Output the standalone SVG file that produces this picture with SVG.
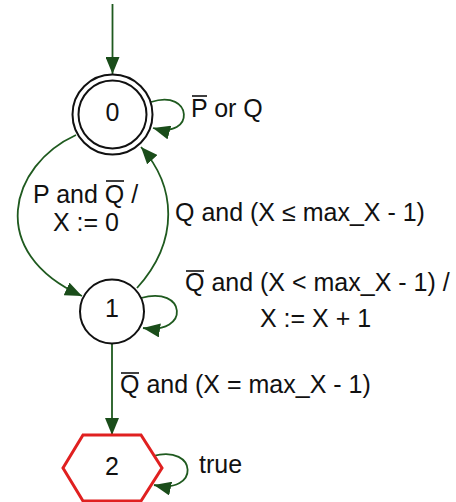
<svg xmlns="http://www.w3.org/2000/svg" width="456" height="502" viewBox="0 0 456 502">
<style>
text{font-family:"Liberation Sans",Arial,sans-serif;font-size:25px;fill:#111}
.mid{text-anchor:middle}
.node{fill:#fff;stroke:#111;stroke-width:2}
.hex{fill:#fff;stroke:#e02020;stroke-width:3}
.edge{fill:none;stroke:#1f5a1f;stroke-width:1.8}
.bar{stroke:#111;stroke-width:1.6}
</style>
<defs>
<marker id="arr" markerUnits="userSpaceOnUse" markerWidth="18" markerHeight="14" refX="17" refY="7" orient="auto">
<path d="M0,0 L17,7 L0,14 z" fill="#1a4d1a"/>
</marker>
</defs>
<g id="connectors">
<path class="edge" d="M112.5,4 L112.5,74" marker-end="url(#arr)"/>
<path class="edge" d="M151,102 C193,88 196,140 153,128" marker-end="url(#arr)"/>
<path class="edge" d="M76,135 C10,165 -15,252 82,296" marker-end="url(#arr)"/>
<path class="edge" d="M137,288 C180,240 176,186 141,147" marker-end="url(#arr)"/>
<path class="edge" d="M141,298 C186,285 191,335 143,328" marker-end="url(#arr)"/>
<path class="edge" d="M112,343 L112,435" marker-end="url(#arr)"/>
<path class="edge" d="M153,456 C198,444 200,495 154,485" marker-end="url(#arr)"/>
</g>
<g id="labels">
<text x="191" y="117">P or Q</text>
<line class="bar" x1="192" y1="96" x2="207" y2="96"/>
<text x="33" y="203">P and Q /</text>
<line class="bar" x1="106" y1="181" x2="124" y2="181"/>
<text x="53" y="231">X := 0</text>
<text x="175" y="221">Q and (X ≤ max_X - 1)</text>
<text x="185" y="291">Q and (X &lt; max_X - 1) /</text>
<line class="bar" x1="186" y1="271" x2="204" y2="271"/>
<text x="260" y="327">X := X + 1</text>
<text x="120" y="393">Q and (X = max_X - 1)</text>
<line class="bar" x1="121" y1="373" x2="139" y2="373"/>
<text x="199" y="473">true</text>
</g>
<g id="node0">
<circle class="node" cx="112.5" cy="114.5" r="40"/>
<circle class="node" cx="112.5" cy="114.5" r="34"/>
<text class="mid" x="112.5" y="121">0</text>
</g>
<g id="node1">
<circle class="node" cx="112" cy="311.5" r="32"/>
<text class="mid" x="112" y="317">1</text>
</g>
<g id="node2">
<polygon class="hex" points="83,435 141,435 162,468 141,501 83,501 63,468"/>
<text class="mid" x="112" y="475">2</text>
</g>
</svg>
